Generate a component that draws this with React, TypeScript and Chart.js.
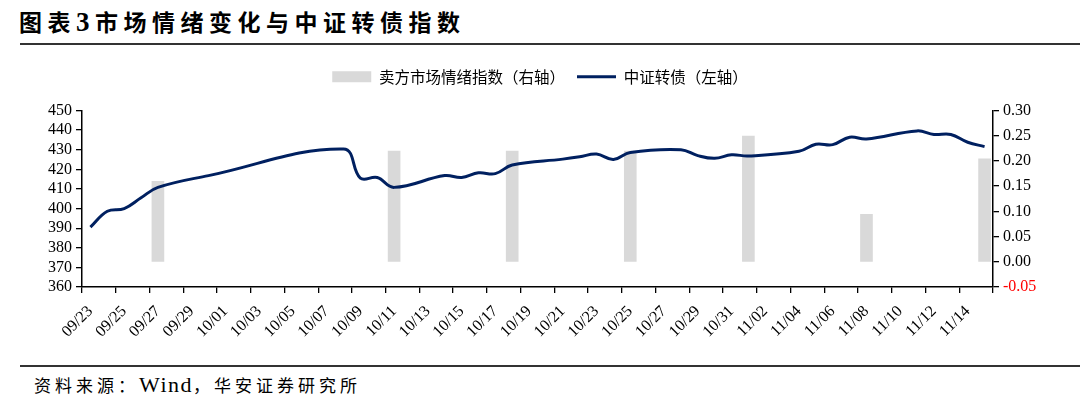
import React, { useEffect, useRef } from "react";
import { Chart, registerables } from "chart.js";

Chart.register(...registerables);

const dates = [
  "09/23", "09/24", "09/25", "09/26", "09/27", "09/28", "09/29", "09/30",
  "10/01", "10/02", "10/03", "10/04", "10/05", "10/06", "10/07", "10/08",
  "10/09", "10/10", "10/11", "10/12", "10/13", "10/14", "10/15", "10/16",
  "10/17", "10/18", "10/19", "10/20", "10/21", "10/22", "10/23", "10/24",
  "10/25", "10/26", "10/27", "10/28", "10/29", "10/30", "10/31", "11/01",
  "11/02", "11/03", "11/04", "11/05", "11/06", "11/07", "11/08", "11/09",
  "11/10", "11/11", "11/12", "11/13", "11/14", "11/15",
];

// 中证转债 (left axis); null = non-trading day
const bondIndex: (number | null)[] = [
  390.5, 398.6, 400.0, 405.5, 410.8, null, null, 416.8,
  null, null, null, null, null, null, null, 430.4,
  415.5, 415.8, 410.8, null, null, 416.8, 415.8, 418.2,
  417.8, 422.2, null, null, 425.2, 426.4, 427.8, 425.0,
  428.6, null, null, 430.0, 427.0, 425.6, 427.4, 426.8,
  null, null, 429.2, 432.8, 432.6, 436.4, 435.5, null,
  null, 439.6, 437.8, 437.8, 433.8, 431.6,
];

// 卖方市场情绪指数 (right axis), weekly
const sentiment: (number | null)[] = [
  null, null, null, null, 0.16, null, null, null,
  null, null, null, null, null, null, null, null,
  null, null, 0.22, null, null, null, null, null,
  null, 0.22, null, null, null, null, null, null,
  0.22, null, null, null, null, null, null, 0.25,
  null, null, null, null, null, null, 0.095, null,
  null, null, null, null, null, 0.205,
];

const leftMin = 360;
const leftMax = 450;
const leftStep = 10;
const rightMin = -0.05;
const rightMax = 0.3;
const rightStep = 0.05;

const barLabel = "卖方市场情绪指数（右轴）";
const lineLabel = "中证转债（左轴）";

const SERIF = '"Liberation Serif", "Noto Sans CJK SC", serif';
const CJK = '"Noto Sans CJK SC", "Liberation Serif", sans-serif';
const NAVY = "#002060";
const GREY = "#d9d9d9";

const legendGap = {
  id: "legendGap",
  beforeUpdate(chart: any) {
    const lg = chart.legend;
    if (lg && !lg._gapPatched) {
      const f = lg.fit;
      lg.fit = function () {
        f.call(this);
        this.height += 16;
      };
      lg._gapPatched = true;
    }
  },
};

function ChartCanvas() {
  const ref = useRef<HTMLCanvasElement>(null);
  useEffect(() => {
    if (!ref.current) return;
    const chart = new Chart(ref.current, {
      type: "bar",
      data: {
        labels: dates,
        datasets: [
          {
            type: "bar",
            label: barLabel,
            data: sentiment,
            yAxisID: "y1",
            backgroundColor: GREY,
            barPercentage: 0.75,
            categoryPercentage: 1,
            order: 2,
          } as any,
          {
            type: "line",
            label: lineLabel,
            data: bondIndex,
            yAxisID: "y",
            borderColor: NAVY,
            backgroundColor: NAVY,
            borderWidth: 3,
            pointRadius: 0,
            tension: 0.4,
            spanGaps: true,
            order: 1,
          } as any,
        ],
      },
      options: {
        responsive: false,
        animation: false,
        layout: { padding: { top: 7, left: 0, right: 0, bottom: 0 } },
        plugins: {
          tooltip: { enabled: false },
          legend: {
            position: "top",
            labels: {
              usePointStyle: true,
              pointStyleWidth: 39,
              boxHeight: 11,
              padding: 12,
              color: "#000",
              font: { family: CJK, size: 15.5 },
              generateLabels: (c: any) =>
                c.data.datasets.map((ds: any, i: number) => ({
                  text: ds.label,
                  fillStyle: ds.type === "bar" ? GREY : NAVY,
                  strokeStyle: ds.type === "bar" ? GREY : NAVY,
                  lineWidth: ds.type === "bar" ? 0 : 3,
                  pointStyle: ds.type === "bar" ? "rect" : "line",
                  hidden: false,
                  datasetIndex: i,
                })),
            },
          },
        },
        scales: {
          x: {
            offset: true,
            grid: {
              offset: true,
              drawOnChartArea: false,
              drawTicks: true,
              tickLength: 6,
              lineWidth: 1.3,
              color: (c: any) =>
                c.index === undefined || c.index % 2 === 0 ? "#000" : "rgba(0,0,0,0)",
            },
            border: { display: true, color: "#000", width: 1.5 },
            ticks: {
              autoSkip: false,
              maxRotation: 45,
              minRotation: 45,
              padding: 9,
              color: "#000",
              font: { family: SERIF, size: 16 },
              callback: (_v: any, i: number) => (i % 2 === 0 ? dates[i] : ""),
            },
            afterFit: (s: any) => {
              s.height = 75;
            },
          },
          y: {
            position: "left",
            min: leftMin,
            max: leftMax,
            ticks: {
              stepSize: leftStep,
              autoSkip: false,
              color: "#000",
              padding: 4,
              font: { family: SERIF, size: 16 },
            },
            grid: { drawOnChartArea: false, tickLength: 6, lineWidth: 1.3, color: "#000" },
            border: { display: true, color: "#000", width: 1.5 },
            afterFit: (s: any) => {
              s.width = 82;
            },
          },
          y1: {
            position: "right",
            min: rightMin,
            max: rightMax,
            ticks: {
              stepSize: rightStep,
              autoSkip: false,
              padding: 4,
              font: { family: SERIF, size: 16 },
              color: (c: any) => (c.tick && c.tick.value < -1e-9 ? "#ff0000" : "#000"),
              callback: (v: any) => {
                const n = Math.abs(Number(v)) < 1e-9 ? 0 : Number(v);
                return n.toFixed(2);
              },
            },
            grid: { drawOnChartArea: false, tickLength: 6, lineWidth: 1.3, color: "#000" },
            border: { display: true, color: "#000", width: 1.5 },
            afterFit: (s: any) => {
              s.width = 87;
            },
          },
        },
      } as any,
      plugins: [legendGap as any],
    });
    return () => chart.destroy();
  }, []);
  return (
    <canvas
      ref={ref}
      width={1080}
      height={312}
      style={{ position: "absolute", left: 0, top: 50, width: 1080, height: 312 }}
    />
  );
}

export default function App() {
  return (
    <div
      style={{
        position: "absolute",
        left: 0,
        top: 0,
        width: 1080,
        height: 406,
        background: "#fff",
        overflow: "hidden",
      }}
    >
      <div
        style={{
          position: "absolute",
          left: 19,
          top: 7,
          fontFamily: SERIF,
          fontWeight: "bold",
          fontSize: 23,
          lineHeight: "30px",
          letterSpacing: 5.5,
          whiteSpace: "nowrap",
          color: "#000",
        }}
      >
        图表<span style={{ fontSize: 27 }}>3</span>市场情绪变化与中证转债指数
      </div>
      <div
        style={{
          position: "absolute",
          left: 20,
          top: 43,
          width: 1060,
          height: 2,
          background: "#333",
        }}
      />
      <ChartCanvas />
      <div
        style={{
          position: "absolute",
          left: 20,
          top: 365,
          width: 1060,
          height: 2,
          background: "#333",
        }}
      />
      <div
        style={{
          position: "absolute",
          left: 34,
          top: 373,
          fontFamily: SERIF,
          fontSize: 17,
          lineHeight: "24px",
          letterSpacing: 4,
          whiteSpace: "nowrap",
          color: "#000",
        }}
      >
        资料来源：<span style={{ fontSize: 22, letterSpacing: 1.5 }}>Wind</span>，华安证券研究所
      </div>
    </div>
  );
}
